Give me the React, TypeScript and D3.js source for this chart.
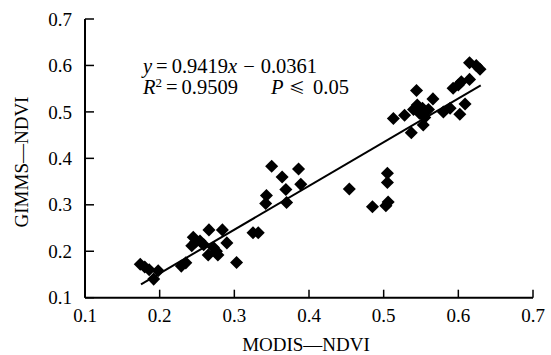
import * as d3 from "d3";

// MODIS NDVI (x) vs GIMMS NDVI (y)
const modisNdvi = [
  0.174, 0.180, 0.186, 0.192, 0.198, 0.229, 0.235,
  0.245, 0.243, 0.248, 0.254, 0.259, 0.266, 0.265, 0.272, 0.276, 0.278,
  0.284, 0.290, 0.303, 0.325, 0.332,
  0.342, 0.343, 0.350, 0.364, 0.369, 0.370, 0.386, 0.389,
  0.454, 0.505, 0.505, 0.485, 0.503, 0.506,
  0.513, 0.528, 0.537, 0.544, 0.540, 0.545, 0.548, 0.552, 0.555, 0.553,
  0.560, 0.566, 0.580, 0.589, 0.593, 0.600, 0.604, 0.602, 0.609, 0.615,
  0.615, 0.624, 0.629,
];
const gimmsNdvi = [
  0.172, 0.166, 0.160, 0.140, 0.158, 0.168, 0.175,
  0.230, 0.212, 0.220, 0.222, 0.214, 0.246, 0.192, 0.208, 0.200, 0.192,
  0.246, 0.218, 0.176, 0.240, 0.240,
  0.303, 0.320, 0.383, 0.360, 0.333, 0.305, 0.377, 0.344,
  0.334, 0.368, 0.348, 0.296, 0.298, 0.306,
  0.486, 0.493, 0.455, 0.546, 0.505, 0.515, 0.497, 0.508, 0.488, 0.472,
  0.505, 0.528, 0.500, 0.508, 0.551, 0.558, 0.565, 0.495, 0.517, 0.570,
  0.606, 0.600, 0.592,
];
const tickValues = [0.1, 0.2, 0.3, 0.4, 0.5, 0.6, 0.7];
const slope = 0.9419;
const intercept = -0.0361;
const fitRange = [0.175, 0.63];

const font = "'Liberation Serif', 'Times New Roman', serif";

export default function App() {
  const width = 551;
  const height = 355;

  const x = d3.scaleLinear().domain([0.1, 0.7]).range([85, 533]);
  const y = d3.scaleLinear().domain([0.1, 0.7]).range([297.7, 19]);

  const diamond = d3.symbol().type(d3.symbolSquare).size(85)();
  const fit = d3.line<number>()
    .x(d => x(d))
    .y(d => y(slope * d + intercept));

  const fmt = d3.format(".1f");

  return (
    <svg
      width={width}
      height={height}
      style={{ position: "absolute", left: 0, top: 0, background: "#fff" }}
      fontFamily={font}
    >
      {/* points */}
      <g>
        {modisNdvi.map((m, i) => (
          <path
            key={i}
            d={diamond}
            transform={`translate(${x(m)},${y(gimmsNdvi[i])}) rotate(45)`}
            fill="#000"
          />
        ))}
      </g>

      {/* regression line */}
      <path d={fit(fitRange) ?? ""} stroke="#000" strokeWidth={2} fill="none" />

      {/* axes */}
      <g stroke="#000" fill="none">
        <line x1={x(0.1)} x2={x(0.7)} y1={y(0.1)} y2={y(0.1)} strokeWidth={2} />
        <line x1={x(0.1)} x2={x(0.1)} y1={y(0.1)} y2={y(0.7)} strokeWidth={2} />
        {tickValues.map(t => (
          <line key={"xt" + t} x1={x(t)} x2={x(t)} y1={y(0.1)} y2={y(0.1) - 8} strokeWidth={1.5} />
        ))}
        {tickValues.map(t => (
          <line key={"yt" + t} x1={x(0.1)} x2={x(0.1) + 9} y1={y(t)} y2={y(t)} strokeWidth={1.5} />
        ))}
      </g>

      <g fontSize={19} fill="#000">
        {tickValues.map(t => (
          <text key={"xl" + t} x={x(t)} y={322} textAnchor="middle">{fmt(t)}</text>
        ))}
        {tickValues.map(t => (
          <text key={"yl" + t} x={72} y={y(t)} dy="0.35em" textAnchor="end">{fmt(t)}</text>
        ))}
        <text x={306} y={351} textAnchor="middle">MODIS—NDVI</text>
        <text transform="translate(28,162) rotate(-90)" textAnchor="middle">GIMMS—NDVI</text>
      </g>

      {/* regression annotation */}
      <g fontSize={20.5} fill="#000">
        <text x={143} y={73}>
          <tspan fontStyle="italic">y</tspan>
          <tspan dx={4}>=</tspan>
          <tspan dx={4}>0.9419</tspan>
          <tspan fontStyle="italic">x</tspan>
          <tspan dx={6}>−</tspan>
          <tspan dx={6}>0.0361</tspan>
        </text>
        <text x={143} y={94}>
          <tspan fontStyle="italic">R</tspan>
          <tspan fontSize={13} dy={-7}>2</tspan>
          <tspan dy={7} dx={4}>=</tspan>
          <tspan dx={4}>0.9509</tspan>
          <tspan x={271} fontStyle="italic">P</tspan>
          <tspan x={289} fontFamily="'Noto Sans CJK SC', sans-serif" fontSize={16}>≤</tspan>
          <tspan x={313}>0.05</tspan>
        </text>
      </g>
    </svg>
  );
}
